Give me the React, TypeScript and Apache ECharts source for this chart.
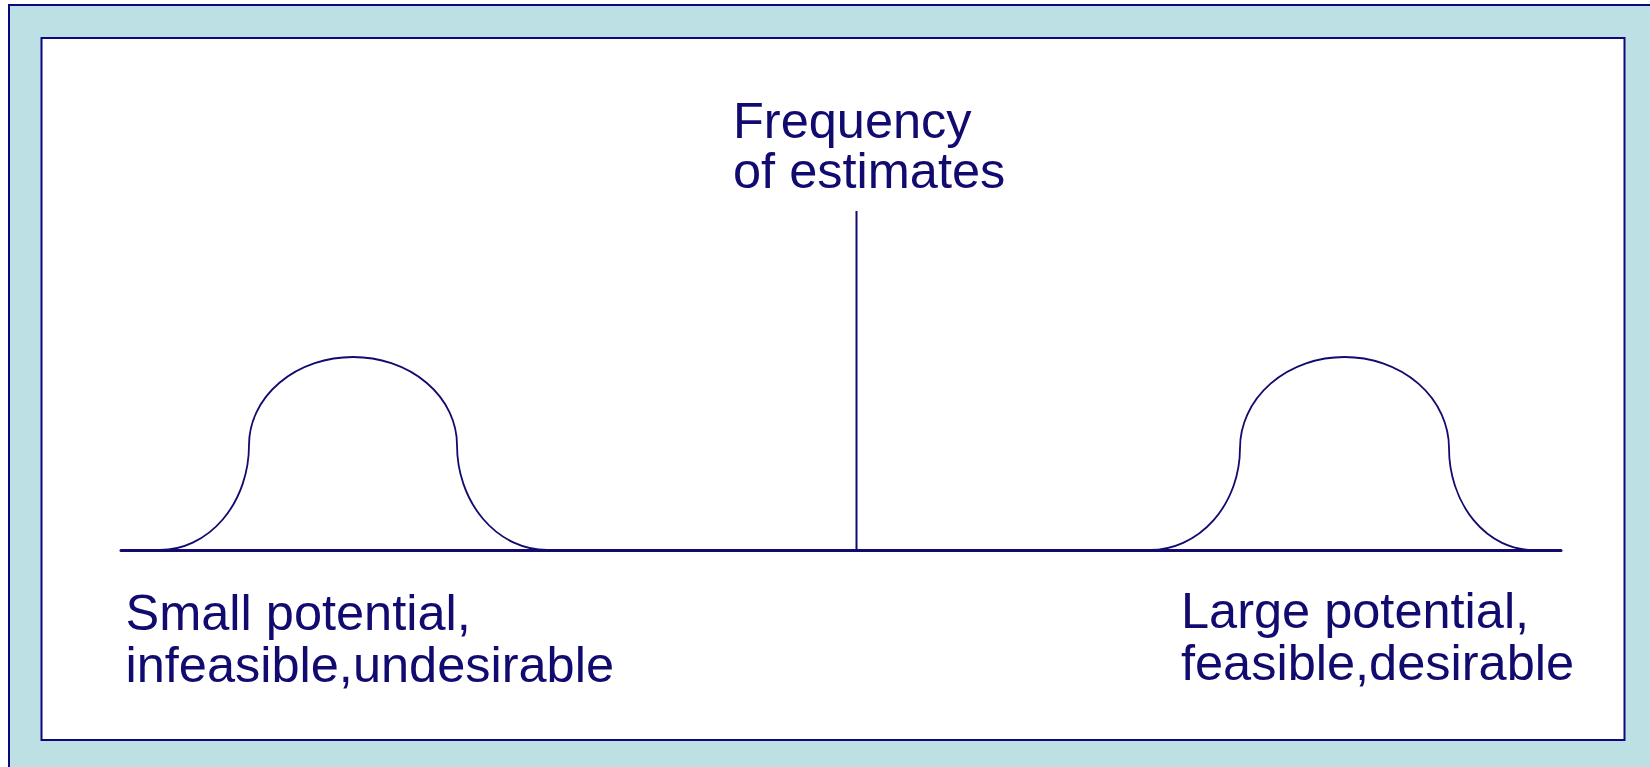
import React, { useEffect, useRef } from "react";
import * as echarts from "echarts";

// Two bell-shaped distributions on the potential scale (x) with frequency of estimates (y),
// read off the picture: where each bell leaves the baseline, its shoulders, its peak and where it lands.
const bumpStartX = [3.9, 102.9];
const bumpLeftShoulderX = [12.8, 111.9];
const bumpPeakX = [23.2, 122.35];
const bumpRightShoulderX = [33.6, 132.8];
const bumpEndX = [42.6, 141.2];
const bumpShoulderY = [35, 34];
const bumpPeakY = [64.33, 64.33];

// Central frequency axis
const centerX = [73.55, 73.55];
const centerY = [0, 113];

const frequencyLines = ["Frequency", "of estimates"];
const lowLabel = "Small potential,\ninfeasible,undesirable";
const highLabel = "Large potential,\nfeasible,desirable";

const NAVY = "#110a6f";
const BORDER = "#0e0780";
const BG = "#bde0e4";

const bumpData = bumpStartX.map((s, i) => [
  s,
  bumpLeftShoulderX[i],
  bumpPeakX[i],
  bumpRightShoulderX[i],
  bumpEndX[i],
  bumpShoulderY[i],
  bumpPeakY[i],
]);
const zip = (xs: number[], ys: number[]) => xs.map((x, i) => [x, ys[i]]);

const pt = (p: number[]) => `${p[0].toFixed(2)} ${p[1].toFixed(2)}`;

export default function App() {
  const ref = useRef<HTMLDivElement>(null);
  useEffect(() => {
    if (!ref.current) return;
    const chart = echarts.init(ref.current, undefined, { renderer: "svg" });
    const font = "'Liberation Sans', Arial, sans-serif";
    chart.setOption({
      animation: false,
      backgroundColor: "#ffffff",
      grid: { left: 121, right: 89, top: 211, bottom: 217 },
      xAxis: {
        type: "value",
        min: 0,
        max: 144,
        axisLine: { show: true, lineStyle: { color: NAVY, width: 3 } },
        axisTick: { show: false },
        axisLabel: { show: false },
        splitLine: { show: false },
      },
      yAxis: {
        type: "value",
        min: 0,
        max: 113,
        show: false,
        splitLine: { show: false },
      },
      graphic: [
        {
          type: "rect",
          z: -10,
          silent: true,
          shape: { x: 9, y: 5, width: 1700, height: 800 },
          style: { fill: BG, stroke: BORDER, lineWidth: 2 },
        },
        {
          type: "rect",
          z: -9,
          silent: true,
          shape: { x: 41.5, y: 38, width: 1583, height: 702 },
          style: { fill: "#ffffff", stroke: BORDER, lineWidth: 2 },
        },
        {
          type: "text",
          left: 733,
          top: 94.5,
          style: { text: frequencyLines[0], font: `50.5px ${font}`, fill: NAVY, lineHeight: 50 },
        },
        {
          type: "text",
          left: 733,
          top: 145,
          style: { text: frequencyLines[1], font: `50.5px ${font}`, fill: NAVY, lineHeight: 50 },
        },
        {
          type: "text",
          left: 125.5,
          top: 586.5,
          style: { text: lowLabel, font: `50.5px ${font}`, fill: NAVY, lineHeight: 52 },
        },
        {
          type: "text",
          left: 1181,
          top: 584.8,
          style: { text: highLabel, font: `50.5px ${font}`, fill: NAVY, lineHeight: 52 },
        },
      ],
      series: [
        {
          type: "custom",
          data: bumpData,
          encode: { x: [0, 1, 2, 3, 4], y: [5, 6] },
          renderItem: (params: any, api: any) => {
            const p0 = api.coord([api.value(0), 0]);
            const p1 = api.coord([api.value(1), api.value(5)]);
            const pk = api.coord([api.value(2), api.value(6)]);
            const p3 = api.coord([api.value(3), api.value(5)]);
            const p4 = api.coord([api.value(4), 0]);
            const rx1 = p1[0] - p0[0];
            const ry1 = p0[1] - p1[1];
            const rxt1 = pk[0] - p1[0];
            const rxt2 = p3[0] - pk[0];
            const ryt = p1[1] - pk[1];
            const rx2 = p4[0] - p3[0];
            const ry2 = p4[1] - p3[1];
            const d =
              `M ${pt(p0)} ` +
              `A ${rx1.toFixed(2)} ${ry1.toFixed(2)} 0 0 0 ${pt(p1)} ` +
              `A ${rxt1.toFixed(2)} ${ryt.toFixed(2)} 0 0 1 ${pt(pk)} ` +
              `A ${rxt2.toFixed(2)} ${ryt.toFixed(2)} 0 0 1 ${pt(p3)} ` +
              `A ${rx2.toFixed(2)} ${ry2.toFixed(2)} 0 0 0 ${pt(p4)}`;
            return {
              type: "path",
              shape: { pathData: d },
              style: { fill: "none", stroke: NAVY, lineWidth: 1.8 },
            };
          },
        },
        {
          type: "line",
          data: zip(centerX, centerY),
          symbol: "none",
          lineStyle: { color: NAVY, width: 2 },
        },
      ],
    });
    return () => chart.dispose();
  }, []);
  return (
    <div
      ref={ref}
      style={{ position: "fixed", left: 0, top: 0, width: 1650, height: 767 }}
    />
  );
}
